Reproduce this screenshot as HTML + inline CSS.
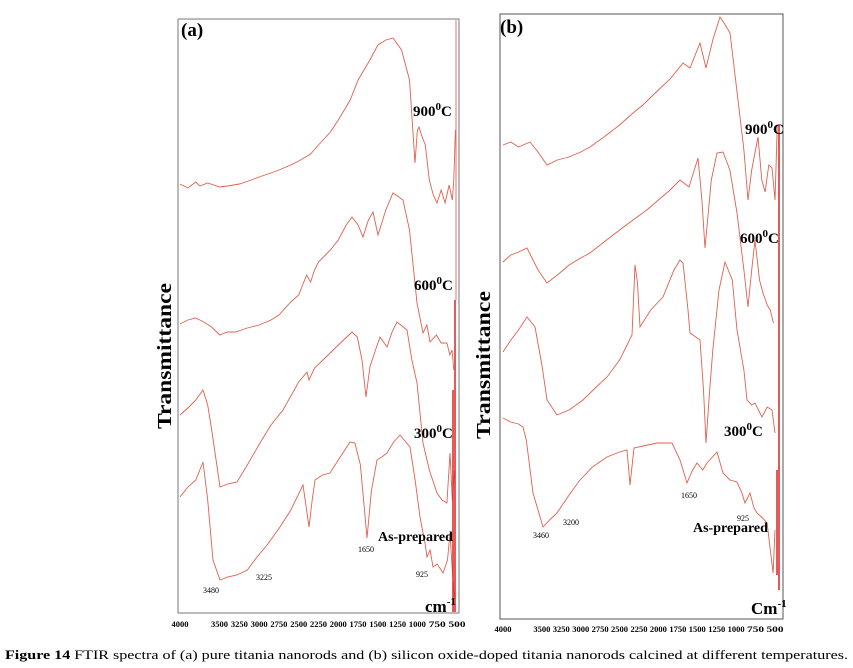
<!DOCTYPE html>
<html><head><meta charset="utf-8"><style>
html,body{margin:0;padding:0;background:#fff;}
svg{display:block;font-family:"Liberation Serif",serif;}
</style></head><body>
<svg id="fig" width="853" height="668" viewBox="0 0 853 668">
<g id="pa"></g>
<g id="pb"></g>
<text x="5" y="659" font-size="13" textLength="843" lengthAdjust="spacingAndGlyphs"><tspan font-weight="bold">Figure 14</tspan>  FTIR spectra of (a) pure titania nanorods and (b) silicon oxide-doped titania nanorods calcined at different temperatures.</text>
</svg>
<script>
// Tick labels
const tickLabels = [4000,3500,3250,3000,2750,2500,2250,2000,1750,1500,1250,1000,750,500];
// Panel (a) series: wavenumbers (cm-1) and transmittance (a.u.)
const a900W = [4000,3900,3800,3750,3650,3500,3400,3250,3100,3000,2850,2750,2600,2500,2350,2250,2100,2000,1850,1750,1600,1500,1400,1309,1200,1100,1031,1000,980,950,900,850,800,753,700,650,600,560,540,520];
const a900T = [436,432,438,434,437,433,434,436,440,443,447,450,455,459,466,475,488,500,520,540,560,575,580,582,570,540,457,490,493,485,475,440,425,417,430,417,435,420,440,490];
const a600W = [4000,3900,3800,3700,3600,3500,3400,3300,3150,3000,2850,2750,2600,2500,2400,2350,2300,2250,2100,2000,1900,1827,1750,1688,1620,1561,1498,1400,1309,1182,1100,1005,930,880,841,760,700,627,590,563,540];
const a600T = [296,300,302,298,293,285,288,288,292,295,300,305,318,325,345,338,350,358,370,380,395,403,395,383,400,408,385,410,427,420,390,317,287,295,278,285,277,277,265,270,250];
const a300W = [4000,3900,3800,3709,3650,3600,3495,3400,3280,3150,2989,2850,2699,2500,2395,2370,2300,2193,2000,1827,1760,1700,1650,1600,1530,1473,1385,1320,1258,1132,1070,1005,930,850,753,690,627,589,560,530];
const a300T = [205,212,220,230,215,190,133,136,138,155,177,195,210,238,248,240,252,260,275,288,283,260,223,253,270,283,273,288,298,290,260,237,177,150,127,120,117,167,120,150];
const aAsW = [4000,3900,3800,3709,3650,3583,3495,3400,3280,3150,3027,2900,2736,2600,2446,2400,2370,2330,2294,2200,2105,2000,1852,1790,1720,1637,1580,1511,1450,1385,1300,1220,1094,1030,968,900,879,840,803,750,677,620,589,560,530];
const aAsT = [123,133,140,158,120,60,40,43,45,50,63,75,93,110,135,110,93,120,140,145,147,160,178,177,155,82,130,160,163,167,178,185,173,140,103,75,63,70,53,56,47,60,87,50,20];
// Panel (b) series
const b900W = [4000,3900,3800,3653,3550,3434,3300,3150,3000,2880,2700,2500,2327,2200,2000,1850,1684,1594,1465,1388,1300,1208,1140,1079,976,900,847,800,719,670,628,580,538,500,470];
const b900T = [475,478,473,478,468,455,460,463,468,473,483,495,507,515,530,541,557,552,577,552,580,603,595,587,520,470,420,450,483,440,428,455,452,420,495];
const b600W = [4000,3900,3800,3691,3550,3434,3300,3150,3000,2880,2700,2500,2327,2150,2000,1850,1722,1607,1491,1440,1401,1320,1246,1169,1080,989,900,847,800,757,700,654,600,560,520];
const b600T = [358,365,368,372,350,337,345,355,362,367,378,390,400,410,420,430,440,433,462,420,372,440,467,468,450,407,350,313,350,380,340,327,315,310,297];
const b300W = [4000,3900,3800,3691,3588,3500,3434,3305,3150,2971,2800,2662,2500,2340,2301,2270,2237,2100,1941,1800,1722,1684,1620,1594,1465,1420,1388,1340,1300,1220,1143,1050,989,900,860,800,757,667,600,538,500];
const b300T = [268,280,290,303,293,255,220,205,210,220,233,243,260,285,355,338,293,310,323,350,360,357,310,287,280,230,177,230,270,330,358,340,290,250,220,215,217,203,213,210,187];
const bAsW = [4000,3900,3800,3743,3700,3614,3485,3400,3305,3150,3009,2850,2662,2500,2404,2366,2314,2200,2018,1900,1825,1722,1632,1560,1504,1430,1375,1246,1169,1080,989,930,886,822,770,731,660,602,560,525,500];
const bAsT = [202,198,196,193,180,127,93,100,107,125,140,153,163,168,170,135,172,174,177,177,177,160,137,150,157,150,157,168,147,140,138,128,117,127,112,107,102,97,70,47,90];

const NS = "http://www.w3.org/2000/svg";
function mk(parent, tag, attrs, txt){
  const el = document.createElementNS(NS, tag);
  for (const k in attrs) el.setAttribute(k, attrs[k]);
  if (txt !== undefined) el.textContent = txt;
  parent.appendChild(el);
  return el;
}
function xa(w){ return 180 + (4000 - w) * 277 / 3500; }
function xb(w){ return 503 + (4000 - w) * 272 / 3500; }
function yv(t){ return 620 - t; }

function drawSeries(g, W, T, xs, name){
  let d = "";
  for (let i = 0; i < W.length; i++) d += (i ? "L" : "M") + xs(W[i]).toFixed(1) + " " + yv(T[i]).toFixed(1);
  const p = mk(g, "path", {d: d, fill: "none", stroke: "#e0604f", "stroke-width": "0.9"});
  
  
}
function label(g, x, y, size, txt, name, bold, extra){
  const t = mk(g, "text", Object.assign({x: x, y: y, "font-size": size, "font-weight": bold ? "bold" : "normal"}, extra || {}), txt);
  
  
  return t;
}
function deg(g, x, y, name){
  const t = mk(g, "text", {x: x, y: y, "font-size": 15, "font-weight": "bold"});
  
  
  const parts = name.split("-")[1];
  mk(t, "tspan", {}, parts);
  mk(t, "tspan", {dy: -6, "font-size": 11}, "0");
  mk(t, "tspan", {dy: 6}, "C");
}

// Panel A
const pa = document.getElementById("pa");
const fa = mk(pa, "path", {d: "M178 19 L459 19 L459 613 M178 19 L178 613 L459 613", fill: "none", stroke: "#777", "stroke-width": "1"});


for (let i = 0; i < tickLabels.length; i++) {
  label(pa, xa(tickLabels[i]), 627, 8, String(tickLabels[i]), "x-tick-a", true, {"text-anchor": "middle", textLength: 17, lengthAdjust: "spacingAndGlyphs"});
}
drawSeries(pa, a900W, a900T, xa, "series-a-900");
drawSeries(pa, a600W, a600T, xa, "series-a-600");
drawSeries(pa, a300W, a300T, xa, "series-a-300");
drawSeries(pa, aAsW, aAsT, xa, "series-a-as-prepared");
const ra0 = mk(pa, "path", {d: "M456 20 L456 300", stroke: "#e05050", "stroke-width": "0.8", fill: "none"});


const ra = mk(pa, "path", {d: "M455 300 L455 612 M453 390 L453 612", stroke: "#e03030", "stroke-width": "1.6", fill: "none"});


label(pa, 181, 36, 19, "(a)", "panel-a-label", true);
deg(pa, 413, 116, "label-900");
deg(pa, 414, 290, "label-600");
deg(pa, 414, 438, "label-300");
label(pa, 378, 541, 14, "As-prepared", "label-as-prepared-a", true);
label(pa, 203, 593, 8, "3480", "peak-3480", false);
label(pa, 256, 580, 8, "3225", "peak-3225", false);
label(pa, 358, 552, 8, "1650", "peak-1650-a", false);
label(pa, 416, 577, 8, "925", "peak-925-a", false);
const ca = label(pa, 425, 612, 17, "cm", "x-unit-a", true);
mk(ca, "tspan", {dy: -7, "font-size": 11}, "-1");
label(pa, 0, 0, 20, "Transmittance", "y-axis-title-a", true, {transform: "translate(171 356) rotate(-90)", "text-anchor": "middle", textLength: 146, lengthAdjust: "spacingAndGlyphs"});

// Panel B
const pb = document.getElementById("pb");
const fb = mk(pb, "path", {d: "M500 14 L783 14 L783 619 L500 619 Z", fill: "none", stroke: "#555", "stroke-width": "1"});


for (let i = 0; i < tickLabels.length; i++) {
  label(pb, xb(tickLabels[i]), 632, 8, String(tickLabels[i]), "x-tick-b", true, {"text-anchor": "middle", textLength: 17, lengthAdjust: "spacingAndGlyphs"});
}
drawSeries(pb, b900W, b900T, xb, "series-b-900");
drawSeries(pb, b600W, b600T, xb, "series-b-600");
drawSeries(pb, b300W, b300T, xb, "series-b-300");
drawSeries(pb, bAsW, bAsT, xb, "series-b-as-prepared");
const rb = mk(pb, "path", {d: "M779 125 L779 590 M777 470 L777 575", stroke: "#e03030", "stroke-width": "1.6", fill: "none"});


label(pb, 500, 33, 19, "(b)", "panel-b-label", true);
deg(pb, 745, 134, "label-900");
deg(pb, 740, 243, "label-600");
deg(pb, 724, 436, "label-300");
label(pb, 693, 532, 14, "As-prepared", "label-as-prepared-b", true);
label(pb, 737, 521, 8, "925", "peak-925-b", false);
label(pb, 681, 498, 8, "1650", "peak-1650-b", false);
label(pb, 533, 538, 8, "3460", "peak-3460", false);
label(pb, 563, 525, 8, "3200", "peak-3200", false);
const cb = label(pb, 751, 614, 17, "Cm", "x-unit-b", true);
mk(cb, "tspan", {dy: -7, "font-size": 11}, "-1");
label(pb, 0, 0, 20, "Transmittance", "y-axis-title-b", true, {transform: "translate(490 365) rotate(-90)", "text-anchor": "middle", textLength: 148, lengthAdjust: "spacingAndGlyphs"});
</script>
</body></html>
